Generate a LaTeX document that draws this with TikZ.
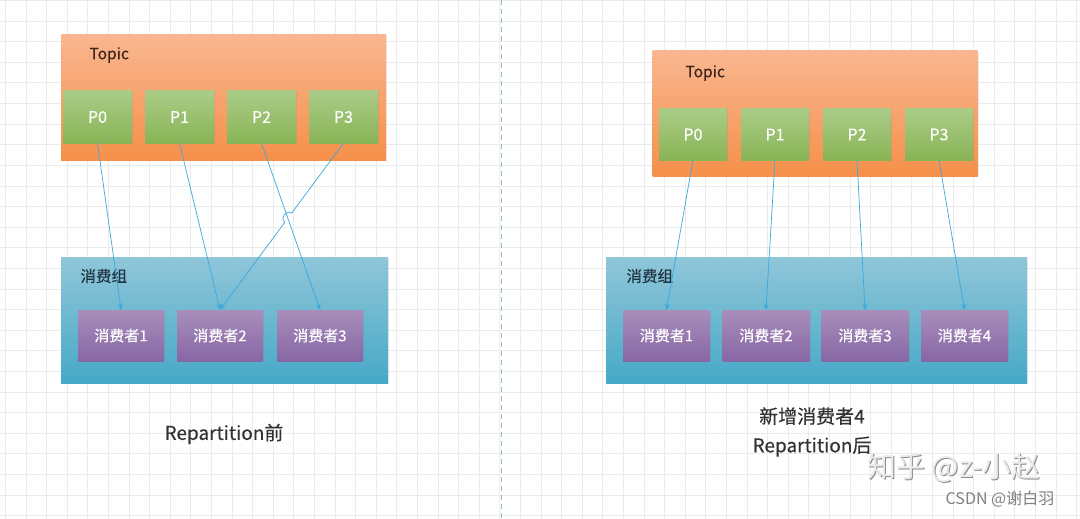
\documentclass[tikz,border=0pt]{standalone}
\usepackage{fontspec}
\setmainfont{Noto Sans CJK SC}
\newfontfamily\medfont[FakeBold=0.4]{Noto Sans CJK SC}
\usetikzlibrary{arrows.meta,calc,shadows}
\definecolor{topicTop}{HTML}{F9B690}
\definecolor{topicBot}{HTML}{F5904A}
\definecolor{partTop}{HTML}{AACC88}
\definecolor{partBot}{HTML}{89B455}
\definecolor{grpTop}{HTML}{90C6D9}
\definecolor{grpBot}{HTML}{46A9C7}
\definecolor{conTop}{HTML}{A98EBB}
\definecolor{conBot}{HTML}{8767A5}
\definecolor{arrowc}{HTML}{3CA8DC}
\definecolor{gridc}{HTML}{EBEBEB}
\definecolor{dashc}{HTML}{8CB8D8}
\definecolor{topictext}{HTML}{3A2418}
\definecolor{grptext}{HTML}{1F3440}
\tikzset{
  topicbox/.style={rectangle, minimum width=325pt, minimum height=125pt, top color=topicTop, bottom color=topicBot, drop shadow={shadow xshift=1pt, shadow yshift=-1pt, opacity=0.15}},
  partbox/.style={rectangle, minimum width=69pt, minimum height=52pt, top color=partTop, bottom color=partBot, text=white, font=\medfont\fontsize{16}{18}\selectfont, drop shadow={shadow xshift=1pt, shadow yshift=-1pt, opacity=0.2}},
  grpbox/.style={rectangle, minimum height=126pt, top color=grpTop, bottom color=grpBot, drop shadow={shadow xshift=1pt, shadow yshift=-1pt, opacity=0.15}},
  conbox/.style={rectangle, minimum width=86pt, minimum height=51pt, top color=conTop, bottom color=conBot, text=white, font=\medfont\fontsize{15}{18}\selectfont, drop shadow={shadow xshift=1pt, shadow yshift=-1pt, opacity=0.2}},
  boxlabel/.style={anchor=west, font=\medfont\fontsize{15.5}{18}\selectfont},
  conn/.style={draw=arrowc, line width=0.7pt, -{Stealth[length=6pt,width=5pt]}},
  caption/.style={font=\medfont\fontsize{19}{29}\selectfont, text=black!80, align=center}
}
\begin{document}
\begin{tikzpicture}[x=1pt,y=-1pt]
\useasboundingbox (0,0) rectangle (1080,519);
\fill[white] (0,0) rectangle (1080,519);
% grid
\foreach \i in {0,...,52} \draw[gridc, line width=0.6pt] ({5.2+20.6*\i},0) -- ({5.2+20.6*\i},519);
\foreach \j in {0,...,25} \draw[gridc, line width=0.6pt] (0,{0.4+20.6*\j}) -- (1080,{0.4+20.6*\j});
% divider
\coordinate (dtop) at (501,0);
\coordinate (dbot) at (501,519);
\draw[dashc, line width=0.8pt, dash pattern=on 5pt off 4pt] (dtop) -- (dbot);

% ===== left =====
\node[topicbox] (ltopic) at (223.5,97.5) {};
\node[boxlabel, text=topictext] (ltopiclbl) at (86,55) {Topic};
\node[partbox] (lp0) at (97.5,117) {P0};
\node[partbox] (lp1) at (179.5,117) {P1};
\node[partbox] (lp2) at (261.5,117) {P2};
\node[partbox] (lp3) at (343.5,117) {P3};

\node[grpbox, minimum width=327pt] (lgrp) at (224.5,320) {};
\node[boxlabel, text=grptext] (lgrplbl) at (77,276) {消费组};
\node[conbox] (lc1) at (121,335.5) {消费者1};
\node[conbox] (lc2) at (220,335.5) {消费者2};
\node[conbox] (lc3) at (320,335.5) {消费者3};

\draw[conn] (lp0.south) -- (lc1.north);
\draw[conn] (lp1.south) -- (lc2.north);
\draw[conn] (lp2.south) -- (lc3.north);
\draw[conn] (lp3.south) -- ($(lp3.south)!0.42!(lc2.north)$) to[bend right=90, looseness=1.5] ($(lp3.south)!0.475!(lc2.north)$) -- (lc2.north);

\node[caption] (lcap) at (224,434) {Repartition前};

% ===== right =====
\node[topicbox] (rtopic) at (815,113.5) {};
\node[boxlabel, text=topictext] (rtopiclbl) at (682,73) {Topic};
\node[partbox, minimum width=68pt, minimum height=51pt] (rp0) at (693,134.5) {P0};
\node[partbox, minimum width=68pt, minimum height=51pt] (rp1) at (775,134.5) {P1};
\node[partbox, minimum width=68pt, minimum height=51pt] (rp2) at (857,134.5) {P2};
\node[partbox, minimum width=68pt, minimum height=51pt] (rp3) at (939,134.5) {P3};

\node[grpbox, minimum width=421pt] (rgrp) at (816.5,320) {};
\node[boxlabel, text=grptext] (rgrplbl) at (623,276) {消费组};
\node[conbox, minimum width=87pt] (rc1) at (666.5,335.5) {消费者1};
\node[conbox, minimum width=87pt] (rc2) at (766,335.5) {消费者2};
\node[conbox, minimum width=87pt] (rc3) at (865,335.5) {消费者3};
\node[conbox, minimum width=87pt] (rc4) at (964.5,335.5) {消费者4};

\draw[conn] (rp0.south) -- (rc1.north);
\draw[conn] (rp1.south) -- (rc2.north);
\draw[conn] (rp2.south) -- (rc3.north);
\draw[conn] (rp3.south) -- (rc4.north);

\node[caption] (rcap) at (812,432) {新增消费者4\\Repartition后};

% watermark
\node[font=\fontsize{29}{32}\selectfont, text=black!45] (wm1s) at (955,469) {知乎 @z-小赵};
\node[font=\fontsize{29}{32}\selectfont, text=black!8] (wm1) at (954,468) {知乎 @z-小赵};
\node[font=\fontsize{16}{18}\selectfont, text=black!50] (wm2) at (1000,499) {CSDN @谢白羽};
\end{tikzpicture}
\end{document}
